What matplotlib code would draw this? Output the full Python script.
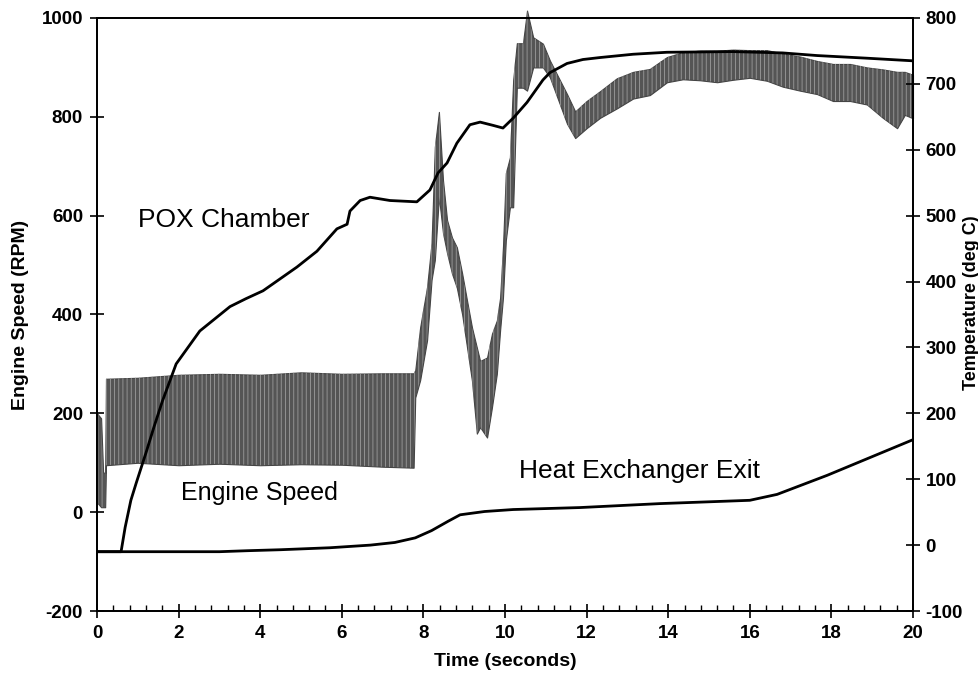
import matplotlib
matplotlib.use("Agg")
import matplotlib.pyplot as plt
from matplotlib.ticker import MultipleLocator

# ---- data ----
# Engine speed (RPM): envelope of the oscillating trace
es_t = [0.00, 0.10, 0.15, 0.20, 0.22, 1.0, 2.0, 3.0, 4.0, 5.0, 6.0, 7.0, 7.76,
        7.80, 7.92, 8.09, 8.20, 8.28, 8.38, 8.48, 8.58, 8.70, 8.82, 8.95, 9.07,
        9.19, 9.31, 9.39, 9.56, 9.68, 9.80, 9.88, 9.95, 10.02, 10.12, 10.20,
        10.29, 10.44, 10.54, 10.69, 10.93, 11.10, 11.52, 11.72, 12.00, 12.33,
        12.74, 13.14, 13.55, 13.97, 14.36, 14.78, 15.20, 15.59, 16.00, 16.42,
        16.81, 17.23, 17.65, 18.04, 18.46, 18.87, 19.26, 19.61, 19.80, 20.00]
es_high = [200, 190, 80, 80, 270, 272, 278, 280, 278, 283, 280, 281, 281,
           287, 374, 456, 545, 739, 810, 672, 591, 556, 536, 483, 428,
           374, 333, 306, 313, 361, 388, 434, 536, 686, 718, 874,
           949, 949, 1015, 961, 948, 914, 846, 811, 832, 852,
           878, 891, 897, 921, 931, 934, 934, 936, 935, 935,
           928, 922, 913, 907, 907, 900, 896, 891, 891, 885]
es_low = [20, 10, 10, 10, 95, 100, 95, 98, 95, 97, 96, 92, 90,
          232, 267, 348, 470, 510, 638, 565, 524, 483, 454, 400, 333,
          266, 159, 172, 151, 212, 280, 368, 434, 550, 617, 617,
          859, 859, 853, 900, 900, 880, 786, 757, 777, 798,
          817, 837, 844, 870, 876, 874, 870, 875, 879, 873,
          861, 853, 846, 832, 832, 825, 798, 777, 804, 797]

# POX chamber temperature (deg C)
pox_t = [0, 0.59, 0.69, 0.83, 0.96, 1.2, 1.4, 1.6, 1.94, 2.52, 3.26, 3.65,
         4.07, 4.9, 5.39, 5.88, 6.13, 6.2, 6.45, 6.69, 7.18, 7.84, 8.16, 8.36,
         8.58, 8.82, 9.14, 9.39, 9.71, 9.95, 10.2, 10.54, 10.93, 11.1, 11.52,
         11.91, 12.33, 13.14, 13.97, 15.59, 16.81, 17.65, 18.87, 20.0]
pox_temp = [-10, -10, 27, 68, 94, 140, 180, 218, 275, 325, 362, 374,
            386, 422, 446, 480, 487, 507, 523, 528, 523, 521, 539, 565,
            580, 610, 638, 642, 637, 633, 648, 672, 706, 717, 731,
            737, 740, 745, 748, 749, 747, 743, 739, 735]

# Heat exchanger exit temperature (deg C)
hx_t = [0, 3.0, 3.68, 4.5, 5.71, 6.7, 7.3, 7.8, 8.2, 8.6, 8.9, 9.5, 10.2,
        11.84, 13.8, 16.0, 16.67, 17.9, 20.0]
hx_temp = [-10, -10, -8.5, -7, -4, 0, 4, 11, 22, 36, 46, 51, 54,
           57, 63, 68, 77, 106, 160]

x_ticks = [0, 2, 4, 6, 8, 10, 12, 14, 16, 18, 20]
rpm_ticks = [-200, 0, 200, 400, 600, 800, 1000]
temp_ticks = [-100, 0, 100, 200, 300, 400, 500, 600, 700, 800]

# ---- figure ----
plt.rcParams['font.family'] = ['Liberation Sans', 'DejaVu Sans']
plt.rcParams['hatch.linewidth'] = 0.6
W, H = 979, 676
fig = plt.figure(figsize=(W / 100, H / 100), dpi=100)
ax = fig.add_axes([97 / W, 65 / H, 816 / W, 593 / H])
ax2 = ax.twinx()

# dense oscillating trace shown as its envelope band
ax.fill_between(es_t, es_low, es_high, facecolor='#555555', edgecolor='#444444',
                linewidth=0.8, clip_on=False, zorder=2)
ax.fill_between(es_t, es_low, es_high, facecolor='none', edgecolor='#9c9c9c',
                linewidth=0, hatch='||||', clip_on=False, zorder=2.1)

ax2.plot(pox_t, pox_temp, color='black', lw=2.0, zorder=3)
ax2.plot(hx_t, hx_temp, color='black', lw=2.0, zorder=3)

ax.set_xlim(0, 20)
ax.set_ylim(-200, 1000)
ax2.set_ylim(-100, 800)
ax.set_xticks(x_ticks)
ax.set_yticks(rpm_ticks)
ax2.set_yticks(temp_ticks)
ax.xaxis.set_minor_locator(MultipleLocator(0.4))

tick_font = dict(fontsize=13.5, fontweight='bold')
ax.set_xticklabels([str(v) for v in x_ticks], **tick_font)
ax.set_yticklabels([str(v) for v in rpm_ticks], **tick_font)
ax2.set_yticklabels([str(v) for v in temp_ticks], **tick_font)

ax.tick_params(axis='both', which='major', direction='inout', length=10,
               width=1.2, pad=5)
ax.tick_params(axis='x', which='minor', direction='in', length=4, width=1.0)
ax2.tick_params(axis='y', which='major', direction='inout', length=10,
                width=1.2, pad=4)
for a in (ax, ax2):
    for s in a.spines.values():
        s.set_linewidth(1.3)

label_font = dict(fontsize=14, fontweight='bold')
ax.set_xlabel('Time (seconds)', labelpad=8, **label_font)
ax.set_ylabel('Engine Speed (RPM)', **label_font)
ax.yaxis.set_label_coords(-0.094, 0.5)
ax2.set_ylabel('Temperature (deg C)', rotation=90, fontsize=13,
               fontweight='bold')
ax2.yaxis.set_label_coords(1.0715, 0.52)
ax2.yaxis.label.set_va('center')
ax2.yaxis.label.set_ha('center')
ax.yaxis.label.set_va('center')

ax2.text(1.0, 493, 'POX Chamber', fontsize=19, va='center', ha='left')
ax2.text(2.05, 79, 'Engine Speed', fontsize=18, va='center', ha='left')
ax2.text(10.35, 112, 'Heat Exchanger Exit', fontsize=19, va='center', ha='left')

fig.savefig('out.png', dpi=100)
